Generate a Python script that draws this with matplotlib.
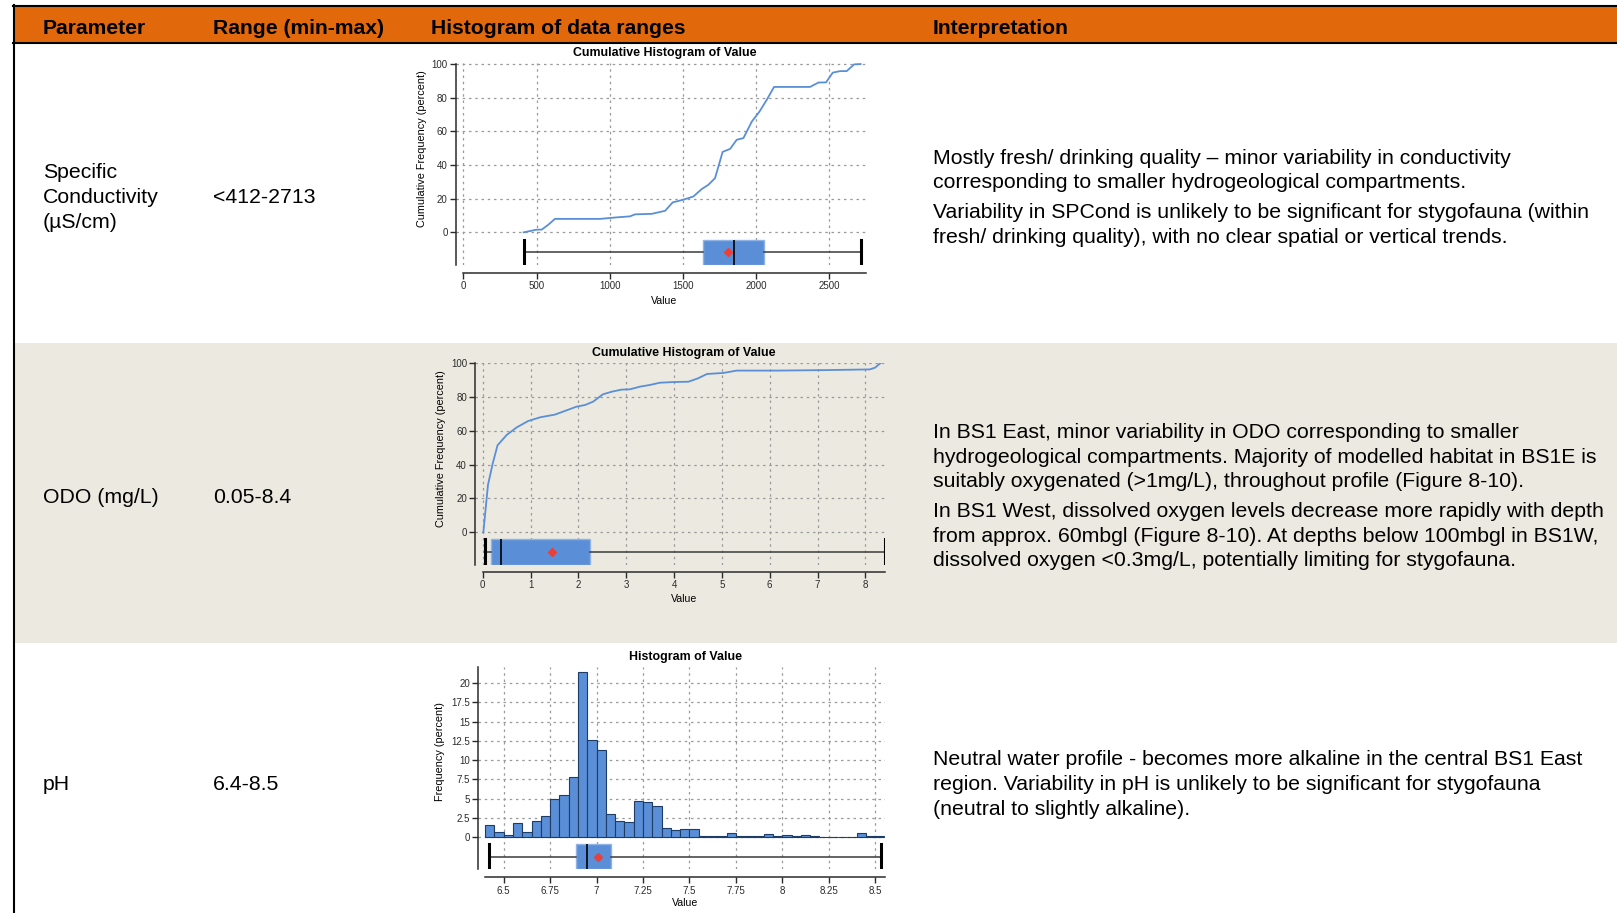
import numpy as np
import matplotlib.pyplot as plt
from matplotlib.patches import Rectangle

plt.rcParams['font.family'] = ['Liberation Sans', 'DejaVu Sans']

# table text
headers = ['Parameter', 'Range (min-max)', 'Histogram of data ranges', 'Interpretation']
params = [['Specific', 'Conductivity', '(µS/cm)'], ['ODO (mg/L)'], ['pH']]
ranges = ['<412-2713', '0.05-8.4', '6.4-8.5']
interpretations = [
    [['Mostly fresh/ drinking quality \u2013 minor variability in conductivity',
      'corresponding to smaller hydrogeological compartments.'],
     ['Variability in SPCond is unlikely to be significant for stygofauna (within',
      'fresh/ drinking quality), with no clear spatial or vertical trends.']],
    [['In BS1 East, minor variability in ODO corresponding to smaller',
      'hydrogeological compartments. Majority of modelled habitat in BS1E is',
      'suitably oxygenated (>1mg/L), throughout profile (Figure 8-10).'],
     ['In BS1 West, dissolved oxygen levels decrease more rapidly with depth',
      'from approx. 60mbgl (Figure 8-10). At depths below 100mbgl in BS1W,',
      'dissolved oxygen <0.3mg/L, potentially limiting for stygofauna.']],
    [['Neutral water profile - becomes more alkaline in the central BS1 East',
      'region. Variability in pH is unlikely to be significant for stygofauna',
      '(neutral to slightly alkaline).']],
]

# Specific conductivity - cumulative histogram
spc_value = [412, 501, 535, 580, 626, 934, 1047, 1138, 1173, 1287, 1378, 1430, 1503,
             1571, 1628, 1674, 1719, 1771, 1822, 1867, 1913, 1970, 2022, 2072, 2122,
             2368, 2425, 2477, 2523, 2573, 2618, 2669, 2713]
spc_cum = [0, 1.6, 1.6, 4.5, 8, 8, 8.9, 9.5, 10.7, 11, 12.8, 17.8, 19.4,
           21.3, 25.7, 28.3, 32.2, 47.8, 49.6, 55, 56, 65.8, 71.7, 78.7, 86.4,
           86.4, 89, 89.1, 94.9, 95.8, 95.8, 99.8, 100]
spc_box = dict(whislo=412, q1=1635, med=1851, q3=2052, whishi=2713, mean=1810, fliers=[])

# ODO - cumulative histogram
odo_value = [0.014, 0.11, 0.21, 0.31, 0.5, 0.71, 0.95, 1.2, 1.51, 1.75, 1.96, 2.14,
             2.31, 2.51, 2.7, 2.9, 3.08, 3.29, 3.5, 3.7, 3.98, 4.3, 4.5, 4.69, 5.03,
             5.31, 6.14, 7.19, 8.09, 8.2, 8.31]
odo_cum = [0, 27.9, 40.7, 51.4, 57.5, 62, 65.8, 68, 69.6, 72.1, 74.3, 75.3,
           77.3, 81.6, 83.2, 84.4, 84.6, 86.2, 87.2, 88.5, 88.9, 89.1, 91.1, 93.7, 94.3,
           95.7, 95.7, 96, 96.4, 97.4, 100]
odo_box = dict(whislo=0.05, q1=0.17, med=0.38, q3=2.24, whishi=8.4, mean=1.44, fliers=[])

# pH - histogram (percent per 0.05 bin starting at 6.40)
ph_bin_start = 6.40
ph_bin_width = 0.05
ph_freq = [1.52, 0.61, 0.26, 1.82, 0.61, 2.04, 2.69, 4.9, 5.51, 7.77, 21.4, 12.67,
           11.32, 2.99, 2.04, 1.91, 4.64, 4.51, 4.03, 1.17, 0.87, 1.0, 1.0, 0.17,
           0.09, 0.17, 0.48, 0.09, 0.17, 0.17, 0.43, 0.17, 0.3, 0.09, 0.26, 0.17,
           0.04, 0.04, 0.04, 0.04, 0.48, 0.09, 0.09]
ph_box = dict(whislo=6.42, q1=6.89, med=6.95, q3=7.08, whishi=8.53, mean=7.01, fliers=[])

W, H = 1617, 913
orange = '#E1690C'
beige = '#ECEAE0'
blue = '#5A8FD7'
dark = '#2b2b2b'

fig = plt.figure(figsize=(W / 100, H / 100), dpi=100)

# background axes in pixel coordinates (y down)
bg = fig.add_axes([0, 0, 1, 1], zorder=0)
bg.set_xlim(0, W)
bg.set_ylim(H, 0)
bg.axis('off')

bg.add_patch(Rectangle((15, 5), W - 15, 39, color=orange, lw=0))
bg.add_patch(Rectangle((15, 343), W - 15, 300, color=beige, lw=0))
bg.plot([13.3, W], [5.8, 5.8], color='black', lw=1.5)
bg.plot([13.3, W], [43.3, 43.3], color='black', lw=1.5)
bg.plot([14.2, 14.2], [5, H], color='black', lw=1.5)

col_x = [43, 213, 431, 933]
for x, h in zip(col_x, headers):
    bg.text(x, 28, h, fontsize=15.2, fontweight='bold', va='center', ha='left')

line_step = 24.7
para_gap = 5
param_y = [197.4, 497.5, 784.5]
interp_y = [158.2, 432.5, 759.8]
for r in range(3):
    lines = params[r]
    y0 = param_y[r] - (len(lines) - 1) * line_step / 2
    for i, s in enumerate(lines):
        bg.text(col_x[0], y0 + i * line_step, s, fontsize=15.3, va='center')
    bg.text(col_x[1], param_y[r], ranges[r], fontsize=15.3, va='center')
    y = interp_y[r]
    for para in interpretations[r]:
        for s in para:
            bg.text(col_x[3], y, s, fontsize=15.3, va='center')
            y += line_step
        y += para_gap


def chart_axes(left, right, top, bottom):
    return fig.add_axes([left / W, 1 - bottom / H, (right - left) / W, (bottom - top) / H], zorder=2)


def style(ax, xbounds, outward, title, ylabel, title_x, xlab_pos, ylab_pos):
    ax.patch.set_alpha(0)
    for s in ['top', 'right']:
        ax.spines[s].set_visible(False)
    for s in ['left', 'bottom']:
        ax.spines[s].set_color(dark)
        ax.spines[s].set_linewidth(1.1)
    ax.spines['bottom'].set_bounds(*xbounds)
    ax.spines['bottom'].set_position(('outward', outward))
    ax.tick_params(axis='both', labelsize=7, colors=dark, length=4, width=1, pad=2)
    ax.grid(True, linestyle=(0, (2, 3)), color='#9a9a9a', lw=0.9)
    ax.set_axisbelow(True)
    ax.set_title(title, fontsize=8.9, fontweight='bold', x=title_x, pad=5)
    ax.set_xlabel('Value', fontsize=7.6)
    ax.set_ylabel(ylabel, fontsize=7.8)
    ax.xaxis.set_label_coords(*xlab_pos, transform=bg.transData)
    ax.yaxis.set_label_coords(*ylab_pos, transform=bg.transData)


def draw_box(ax, stats, pos, height):
    ax.bxp([stats], positions=[pos], widths=height, orientation='horizontal',
           patch_artist=True, showmeans=True, showfliers=False, manage_ticks=False,
           capwidths=height,
           boxprops=dict(facecolor=blue, edgecolor='#8fb3e6', linewidth=1),
           whiskerprops=dict(color='#3a3a3a', lw=1.1),
           capprops=dict(color='black', lw=2.2),
           medianprops=dict(color='black', lw=1.2),
           meanprops=dict(marker='D', markerfacecolor='#E8403A', markeredgecolor='#E8403A',
                          markersize=4.2),
           zorder=3)


# chart 1 - specific conductivity
ax1 = chart_axes(456, 866, 63.2, 265)
ax1.plot(spc_value, spc_cum, color=blue, lw=1.3, zorder=3)
draw_box(ax1, spc_box, -11.75, 14.9)
ax1.set_xlim(-50, 2750)
ax1.set_ylim(-19.4, 100.5)
ax1.set_xticks([0, 500, 1000, 1500, 2000, 2500])
ax1.set_yticks([0, 20, 40, 60, 80, 100])
ax1.spines['left'].set_bounds(-19.4, 100)
style(ax1, (0, 2750), 5.5, 'Cumulative Histogram of Value', 'Cumulative Frequency (percent)',
      0.51, (664.5, 295.5), (427, 148.3))

# chart 2 - ODO
ax2 = chart_axes(475.3, 885, 362.5, 565)
ax2.plot(odo_value, odo_cum, color=blue, lw=1.3, zorder=3)
draw_box(ax2, odo_box, -12, 15.2)
ax2.set_xlim(-0.155, 8.41)
ax2.set_ylim(-19.6, 100.5)
ax2.set_xticks(range(0, 9))
ax2.set_yticks([0, 20, 40, 60, 80, 100])
ax2.spines['left'].set_bounds(-19.6, 100)
style(ax2, (0, 8.41), 4.8, 'Cumulative Histogram of Value', 'Cumulative Frequency (percent)',
      0.51, (684, 594.5), (446.2, 448.3))

# chart 3 - pH
ax3 = chart_axes(478.3, 885, 667, 869)
ph_left = ph_bin_start + ph_bin_width * np.arange(len(ph_freq))
ax3.bar(ph_left, ph_freq, width=ph_bin_width, align='edge', color=blue,
        edgecolor='#1e3d66', linewidth=0.8, zorder=2)
draw_box(ax3, ph_box, -2.56, 3.2)
ax3.set_xlim(6.363, 8.553)
ax3.set_ylim(-4.15, 22.1)
ax3.set_xticks([6.5, 6.75, 7, 7.25, 7.5, 7.75, 8, 8.25, 8.5])
ax3.set_xticklabels(['6.5', '6.75', '7', '7.25', '7.5', '7.75', '8', '8.25', '8.5'])
ax3.set_yticks([0, 2.5, 5, 7.5, 10, 12.5, 15, 17.5, 20])
ax3.set_yticklabels(['0', '2.5', '5', '7.5', '10', '12.5', '15', '17.5', '20'])
ax3.spines['left'].set_bounds(-4.15, 22.1)
style(ax3, (6.40, 8.553), 6, 'Histogram of Value', 'Frequency (percent)',
      0.51, (685, 897.5), (444.8, 751.7))

fig.savefig('out.png', dpi=100)
